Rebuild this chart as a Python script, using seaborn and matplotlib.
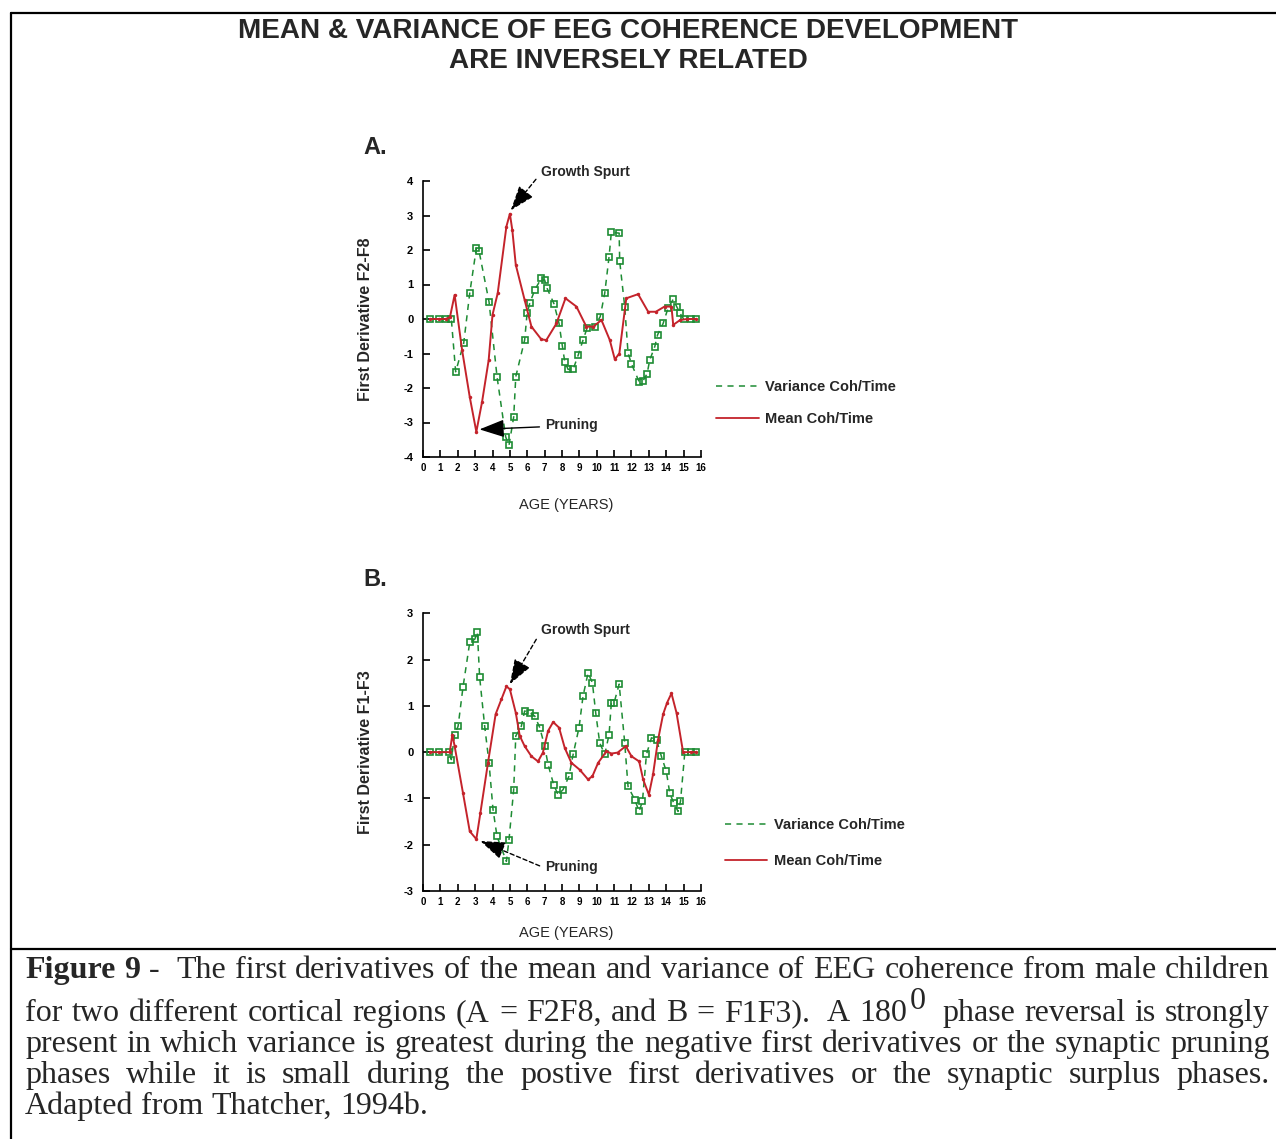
import matplotlib
matplotlib.use("Agg")
import matplotlib.pyplot as plt
import seaborn as sns
import numpy as np
import pandas as pd
from matplotlib.lines import Line2D

# ---------------- data ----------------
ages = list(range(17))
age_labels = [str(a) for a in ages]

mean_a_x = [0.4, 0.9, 1.3, 1.55, 1.82, 2.25, 2.69, 3.07, 3.4, 3.78, 4.0, 4.3, 4.8, 5.0, 5.14, 5.34,
            5.85, 6.24, 6.81, 7.1, 7.68, 8.2, 8.83, 9.4, 9.8, 10.27, 10.75, 11.04, 11.3, 11.7,
            12.38, 12.96, 13.4, 13.9, 14.3, 14.4, 14.8, 15.2, 15.7]
mean_a_y = [0, 0, 0, 0.05, 0.70, -0.9, -2.26, -3.27, -2.4, -1.19, 0.12, 0.75, 2.68, 3.05, 2.58, 1.57,
            0.55, -0.22, -0.59, -0.61, -0.13, 0.60, 0.36, -0.22, -0.22, -0.03, -0.61, -1.17, -1.0, 0.6,
            0.72, 0.21, 0.21, 0.36, 0.36, -0.17, -0.03, 0, 0]

var_a_x = [0.4, 0.9, 1.3, 1.63, 1.88, 2.34, 2.69, 3.07, 3.22, 3.8, 4.26, 4.76, 4.95, 5.22, 5.34,
           5.85, 5.99, 6.14, 6.43, 6.81, 7.0, 7.14, 7.54, 7.83, 8.02, 8.16, 8.35, 8.64, 8.93, 9.21,
           9.44, 9.88, 10.2, 10.46, 10.71, 10.84, 11.29, 11.32, 11.61, 11.8, 11.99, 12.44, 12.67,
           12.9, 13.05, 13.34, 13.5, 13.82, 14.1, 14.4, 14.6, 14.8, 15.0, 15.4, 15.7]
var_a_y = [0, 0, 0, 0, -1.53, -0.71, 0.75, 2.05, 1.98, 0.5, -1.67, -3.42, -3.66, -2.84, -1.67,
           -0.61, 0.16, 0.45, 0.84, 1.18, 1.13, 0.89, 0.44, -0.13, -0.78, -1.24, -1.46, -1.46, -1.05, -0.61,
           -0.27, -0.22, 0.07, 0.75, 1.81, 2.51, 2.49, 1.67, 0.36, -0.98, -1.29, -1.82, -1.79,
           -1.58, -1.19, -0.8, -0.46, -0.13, 0.31, 0.57, 0.36, 0.16, 0, 0, 0]

mean_b_x = [0.4, 0.9, 1.54, 1.69, 1.82, 2.3, 2.69, 3.07, 3.3, 3.74, 4.18, 4.51, 4.8, 5.0, 5.34, 5.57,
            5.85, 6.24, 6.62, 6.9, 7.2, 7.49, 7.83, 8.16, 8.54, 9.02, 9.5, 9.75, 10.08, 10.56, 10.84,
            11.2, 11.67, 12.0, 12.44, 12.67, 13.0, 13.24, 13.53, 13.82, 14.05, 14.3, 14.59, 14.97,
            15.4, 15.7]
mean_b_y = [0, 0, 0, 0.38, 0.13, -0.88, -1.71, -1.88, -1.32, -0.23, 0.82, 1.14, 1.42, 1.36, 0.85, 0.35,
            0.13, -0.09, -0.2, -0.01, 0.46, 0.65, 0.53, 0.09, -0.23, -0.38, -0.59, -0.52, -0.23, 0.02, -0.03,
            -0.01, 0.13, -0.09, -0.2, -0.59, -0.92, -0.48, 0.27, 0.82, 1.07, 1.27, 0.85, 0,
            0, 0]

var_b_x = [0.4, 0.9, 1.5, 1.63, 1.82, 2.02, 2.3, 2.69, 2.98, 3.13, 3.26, 3.55, 3.8, 4.03, 4.26, 4.8,
           4.95, 5.22, 5.34, 5.66, 5.85, 6.14, 6.43, 6.72, 7.0, 7.2, 7.52, 7.77, 8.06, 8.4, 8.64, 8.98,
           9.21, 9.5, 9.75, 9.94, 10.17, 10.46, 10.71, 10.84, 11.0, 11.29, 11.61, 11.8, 12.19, 12.44,
           12.63, 12.86, 13.15, 13.44, 13.72, 14.0, 14.2, 14.43, 14.68, 14.82, 15.07, 15.4, 15.7]
var_b_y = [0, 0, 0, -0.16, 0.38, 0.56, 1.4, 2.37, 2.44, 2.59, 1.62, 0.56, -0.23, -1.24, -1.82, -2.36,
           -1.89, -0.81, 0.35, 0.56, 0.89, 0.85, 0.78, 0.53, 0.13, -0.27, -0.7, -0.92, -0.81, -0.52, -0.05, 0.53,
           1.21, 1.71, 1.5, 0.85, 0.2, -0.05, 0.38, 1.07, 1.07, 1.47, 0.2, -0.74, -1.03, -1.28,
           -1.06, -0.05, 0.31, 0.27, -0.09, -0.41, -0.88, -1.1, -1.28, -1.06, 0, 0, 0]

title_lines = ["MEAN & VARIANCE OF EEG COHERENCE DEVELOPMENT", "ARE INVERSELY RELATED"]
series_labels = ["Variance Coh/Time", "Mean Coh/Time"]

# each word: (text, weight, superscript, extra_gap_after)
caption_lines = [
    [("Figure", "bold"), ("9", "bold"), ("-", "normal", "", 1), ("The",), ("first",), ("derivatives",), ("of",),
     ("the",), ("mean",), ("and",), ("variance",), ("of",), ("EEG",), ("coherence",), ("from",), ("male",),
     ("children",)],
    [("for",), ("two",), ("different",), ("cortical",), ("regions",), ("(A",), ("=",), ("F2F8,",), ("and",), ("B",),
     ("=",), ("F1F3).", "normal", "", 1), ("A",), ("180", "normal", "0", 1), ("phase",), ("reversal",), ("is",),
     ("strongly",)],
    [(w,) for w in "present in which variance is greatest during the negative first derivatives or the synaptic pruning".split()],
    [(w,) for w in "phases while it is small during the postive first derivatives or the synaptic surplus phases.".split()],
    [(w,) for w in "Adapted from Thatcher, 1994b.".split()],
]

# ---------------- style ----------------
sns.set_theme(style="white")
plt.rcParams["font.family"] = ["Liberation Sans", "DejaVu Sans"]
GREEN = "#1e8c34"
RED = "#c4232b"

W, H = 1276, 1139
fig = plt.figure(figsize=(W / 100, H / 100), dpi=100)
fig.patch.set_facecolor("white")


def fx(px):
    return px / W


def fy(py):
    return 1 - py / H


renderer = fig.canvas.get_renderer()


def text_width(s, **kw):
    t = fig.text(0, 0, s, **kw)
    w = t.get_window_extent(renderer=renderer).width
    t.remove()
    return w


def panel(rect, mx, my, vx, vy, ylim, ylabel, xlab_y, leg_anchor, leg_spacing, annots):
    ax = fig.add_axes(rect)
    sns.lineplot(x=vx, y=vy, ax=ax, color=GREEN, lw=1.1, linestyle=(0, (4, 3.5)), marker="s",
                 markersize=4.8, markerfacecolor="none", markeredgecolor=GREEN, markeredgewidth=1.2,
                 sort=False, estimator=None, zorder=3)
    sns.lineplot(x=mx, y=my, ax=ax, color=RED, lw=1.4, marker="o", markersize=2.5,
                 markeredgewidth=0, sort=False, estimator=None, zorder=4)
    ax.set_xlim(0, 16)
    ax.set_ylim(*ylim)
    ax.set_xticks(ages)
    ax.set_xticklabels(age_labels)
    yt = list(range(ylim[0], ylim[1] + 1))
    ax.set_yticks(yt)
    ax.set_yticklabels([str(v) for v in yt])
    ax.tick_params(axis="both", direction="in", length=5, width=1.2, colors="black",
                   bottom=True, left=True)
    ax.tick_params(axis="y", pad=7, labelsize=8)
    ax.tick_params(axis="x", pad=4, labelsize=7)
    for lbl in ax.get_xticklabels() + ax.get_yticklabels():
        lbl.set_fontweight("bold")
    for s in ["top", "right"]:
        ax.spines[s].set_visible(False)
    for s in ["left", "bottom"]:
        ax.spines[s].set_color("black")
        ax.spines[s].set_linewidth(1.2)
    ax.set_facecolor("none")
    ax.set_ylabel(ylabel, fontsize=11.5, fontweight="bold")
    ax.yaxis.set_label_coords(-0.18, 0.5)
    ax.set_xlabel("AGE (YEARS)", fontsize=10.5)
    ax.xaxis.set_label_coords(0.514, xlab_y)
    handles = [Line2D([], [], color=GREEN, lw=1.1, linestyle=(0, (4, 3.5))),
               Line2D([], [], color=RED, lw=1.3)]
    ax.legend(handles, series_labels, loc="center left", bbox_to_anchor=leg_anchor, frameon=False,
              prop={"size": 10.5, "weight": "bold"}, handlelength=2.9, labelspacing=leg_spacing,
              handletextpad=0.45, borderpad=0, borderaxespad=0)
    for (txt, xy, xytext, ls) in annots:
        ax.annotate(txt, xy=xy, xytext=xytext, textcoords="data", ha="left", va="center",
                    fontsize=10, fontweight="bold", annotation_clip=False,
                    arrowprops=dict(arrowstyle="-|>,head_length=0.7,head_width=0.25", color="black",
                                    lw=1.0, linestyle=ls, mutation_scale=22, shrinkA=2, shrinkB=0,
                                    relpos=(0, 0.4)))
    return ax


# Panel A
axA = panel([fx(423), fy(457), fx(701) - fx(423), fy(181) - fy(457)],
            mean_a_x, mean_a_y, var_a_x, var_a_y, (-4, 4), "First Derivative F2-F8", -0.149,
            (1.055, 0.196), 1.25,
            [("Growth Spurt", (5.05, 3.15), (6.79, 4.27), (0, (3, 2))),
             ("Pruning", (3.25, -3.2), (7.05, -3.08), "-")])
# Panel B
axB = panel([fx(423), fy(891), fx(701) - fx(423), fy(613.3) - fy(891)],
            mean_b_x, mean_b_y, var_b_x, var_b_y, (-3, 3), "First Derivative F1-F3", -0.126,
            (1.086, 0.173), 1.5,
            [("Growth Spurt", (5.0, 1.47), (6.79, 2.64), (0, (3, 2))),
             ("Pruning", (3.3, -1.92), (7.05, -2.48), (0, (3, 2)))])

fig.text(fx(363), fy(148), "A.", fontsize=17, fontweight="bold", ha="left", va="center")
fig.text(fx(363), fy(580), "B.", fontsize=17, fontweight="bold", ha="left", va="center")

# Title fitted to width
tw = text_width(title_lines[0], fontsize=20, fontweight="bold")
tsize = 20 * 781 / tw
fig.text(fx(628), fy(28), title_lines[0], fontsize=tsize, fontweight="bold", ha="center", va="center_baseline")
fig.text(fx(628), fy(58), title_lines[1], fontsize=tsize, fontweight="bold", ha="center", va="center_baseline")

# Frame
for xs, ys in [([fx(11), 1], [fy(13), fy(13)]),
               ([fx(11), fx(11)], [fy(13), 0]),
               ([fx(11), 1], [fy(949), fy(949)])]:
    fig.add_artist(Line2D(xs, ys, transform=fig.transFigure, color="black", lw=1.6))

# Caption (justified)
serif = ["Liberation Serif", "DejaVu Serif"]
cw = text_width("Adapted from Thatcher, 1994", fontsize=20, family=serif)
csize = 20 * 378 / cw
baselines = [978, 1021, 1052, 1083, 1114]
X0, X1 = 25, 1270
space_w = text_width("a b", fontsize=csize, family=serif) - text_width("ab", fontsize=csize, family=serif)
for li, (words, yb) in enumerate(zip(caption_lines, baselines)):
    widths = []
    extras = []
    for wd in words:
        weight = wd[1] if len(wd) > 1 else "normal"
        w = text_width(wd[0], fontsize=csize, family=serif, fontweight=weight)
        if len(wd) > 2 and wd[2]:
            w += text_width(wd[2], fontsize=csize, family=serif) + 2
        widths.append(w)
        extras.append(space_w * wd[3] if len(wd) > 3 else 0)
    justify = li < len(caption_lines) - 1
    gap = (X1 - X0 - sum(widths) - sum(extras[:-1])) / (len(words) - 1) if justify else space_w
    x = X0
    for wd, w, ex in zip(words, widths, extras):
        weight = wd[1] if len(wd) > 1 else "normal"
        fig.text(fx(x), fy(yb), wd[0], fontsize=csize, family=serif, fontweight=weight,
                 ha="left", va="baseline")
        if len(wd) > 2 and wd[2]:
            w0 = text_width(wd[0], fontsize=csize, family=serif, fontweight=weight)
            fig.text(fx(x + w0 + 2), fy(yb - 12), wd[2], fontsize=csize, family=serif,
                     ha="left", va="baseline")
        x += w + gap + ex

fig.savefig("out.png", dpi=100, facecolor="white")
